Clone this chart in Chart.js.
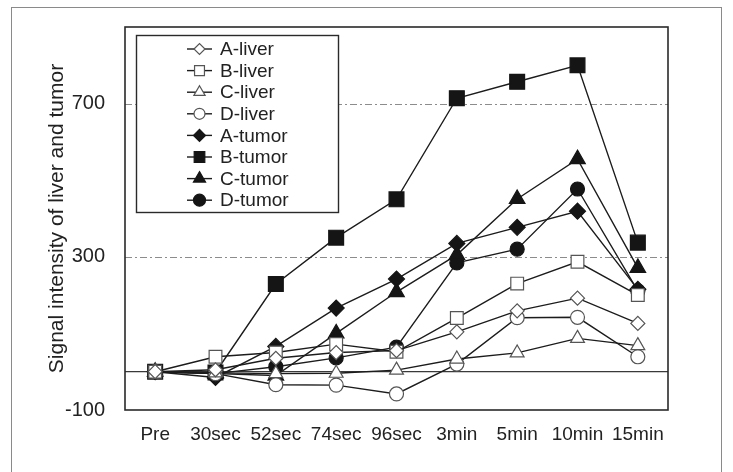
<!DOCTYPE html>
<html><head><meta charset="utf-8">
<script src="https://cdn.jsdelivr.net/npm/chart.js@4.4.1/dist/chart.umd.min.js"></script>
<style>html,body{margin:0;padding:0;background:#fff;} canvas{display:block}</style>
</head><body>
<canvas id="c" width="733" height="472"></canvas>
<script>
const categories = ['Pre','30sec','52sec','74sec','96sec','3min','5min','10min','15min'];
const aLiver = [0, 5, 35, 50, 55, 104, 159, 192, 126];
const bLiver = [0, 39, 50, 72, 52, 140, 230, 287, 200];
const cLiver = [0, -3, -5, -4, 4, 33, 49, 87, 68];
const dLiver = [0, -5, -34, -35, -58, 20, 141, 142, 39];
const aTumor = [0, -15, 66, 166, 242, 335, 377, 419, 215];
const bTumor = [0, -2, 229, 350, 450, 714, 757, 800, 337];
const cTumor = [0, -5, -10, 100, 208, 305, 451, 555, 271];
const dTumor = [0, -5, 13, 36, 64, 284, 320, 477, 211];
const seriesLabels = ['A-liver','B-liver','C-liver','D-liver','A-tumor','B-tumor','C-tumor','D-tumor'];
const yTicks = [-100, 300, 700];
const gridValues = [300, 700];
const baselineValue = 0;
const yTitle = 'Signal intensity of liver and tumor';

const FONT = "'Liberation Sans', Arial, Helvetica, sans-serif";
const LINE = '#1c1c1c';

function ds(label, data, style, filled, radius, legendRadius) {
  return {
    label, data,
    borderColor: LINE, borderWidth: 1.4, tension: 0, fill: false,
    pointStyle: style, pointRadius: radius, pointHoverRadius: radius,
    pointBackgroundColor: filled ? '#151515' : '#ffffff',
    pointBorderColor: filled ? '#151515' : '#555555',
    pointBorderWidth: 1.2,
    legendRadius
  };
}

const datasets = [
  ds(seriesLabels[0], aLiver, 'rectRot', false, 7, 5.5),
  ds(seriesLabels[1], bLiver, 'rect', false, 9, 7),
  ds(seriesLabels[2], cLiver, 'triangle', false, 8, 6.5),
  ds(seriesLabels[3], dLiver, 'circle', false, 7, 5.5),
  ds(seriesLabels[4], aTumor, 'rectRot', true, 8, 6),
  ds(seriesLabels[5], bTumor, 'rect', true, 10.5, 7.5),
  ds(seriesLabels[6], cTumor, 'triangle', true, 9, 7),
  ds(seriesLabels[7], dTumor, 'circle', true, 7, 6)
];

const decor = {
  id: 'decor',
  beforeDraw(chart) {
    const ctx = chart.ctx;
    ctx.save();
    ctx.strokeStyle = '#8a8a8a';
    ctx.lineWidth = 1;
    ctx.strokeRect(11.5, 7.5, 710, 500);
    ctx.restore();
  },
  beforeDatasetsDraw(chart) {
    const {ctx, chartArea: a, scales: {y}} = chart;
    ctx.save();
    ctx.strokeStyle = '#8c8c8c';
    ctx.lineWidth = 1;
    ctx.setLineDash([7, 3, 2, 3]);
    gridValues.forEach(v => {
      const py = Math.round(y.getPixelForValue(v)) + 0.5;
      ctx.beginPath(); ctx.moveTo(a.left, py); ctx.lineTo(a.right, py); ctx.stroke();
    });
    ctx.setLineDash([]);
    ctx.strokeStyle = '#3a3a3a';
    ctx.lineWidth = 1.3;
    const pz = y.getPixelForValue(baselineValue);
    ctx.beginPath(); ctx.moveTo(a.left, pz); ctx.lineTo(a.right, pz); ctx.stroke();
    ctx.restore();
  },
  afterDatasetsDraw(chart) {
    const {ctx, chartArea: a} = chart;
    ctx.save();
    ctx.strokeStyle = '#2a2a2a';
    ctx.lineWidth = 1.6;
    ctx.strokeRect(a.left, a.top, a.right - a.left, a.bottom - a.top);
    const lx = 136, ly = 35, lw = 202, lh = 177;
    ctx.fillStyle = '#ffffff';
    ctx.fillRect(lx, ly, lw, lh);
    ctx.strokeStyle = '#2a2a2a';
    ctx.lineWidth = 1.4;
    ctx.strokeRect(lx + 0.5, ly + 0.5, lw, lh);
    ctx.font = '19px ' + FONT;
    ctx.textBaseline = 'middle';
    ctx.textAlign = 'left';
    chart.data.datasets.forEach((d, i) => {
      const cy = 49 + i * 21.6;
      ctx.strokeStyle = LINE;
      ctx.lineWidth = 1.4;
      ctx.beginPath(); ctx.moveTo(187, cy); ctx.lineTo(212, cy); ctx.stroke();
      ctx.fillStyle = d.pointBackgroundColor;
      ctx.strokeStyle = d.pointBorderColor;
      ctx.lineWidth = 1.2;
      Chart.helpers.drawPoint(ctx, {pointStyle: d.pointStyle, rotation: 0, radius: d.legendRadius, borderWidth: 1.2}, 199.5, cy);
      ctx.fillStyle = '#222';
      ctx.fillText(d.label, 220, cy + 1);
    });
    ctx.restore();
  }
};

new Chart(document.getElementById('c'), {
  type: 'line',
  data: { labels: categories, datasets },
  options: {
    responsive: false,
    devicePixelRatio: 1,
    animation: false,
    layout: { padding: { left: 0, right: 65, top: 27, bottom: 0 } },
    plugins: { legend: { display: false }, tooltip: { enabled: false } },
    scales: {
      x: {
        type: 'category', offset: true,
        grid: { display: false }, border: { display: false },
        ticks: { color: '#222', font: { family: FONT, size: 19 }, padding: 5, maxRotation: 0, autoSkip: false },
        afterFit: s => { s.height = 62; }
      },
      y: {
        min: -100, max: 900,
        grid: { display: false }, border: { display: false },
        afterBuildTicks: s => { s.ticks = yTicks.map(v => ({ value: v })); },
        ticks: { color: '#222', font: { family: FONT, size: 20 }, padding: 12 },
        title: { display: true, text: yTitle, color: '#222', font: { family: FONT, size: 21 }, padding: { top: 45, bottom: 0 } },
        afterFit: s => { s.width = 125; }
      }
    }
  },
  plugins: [decor]
});
</script>
</body></html>
